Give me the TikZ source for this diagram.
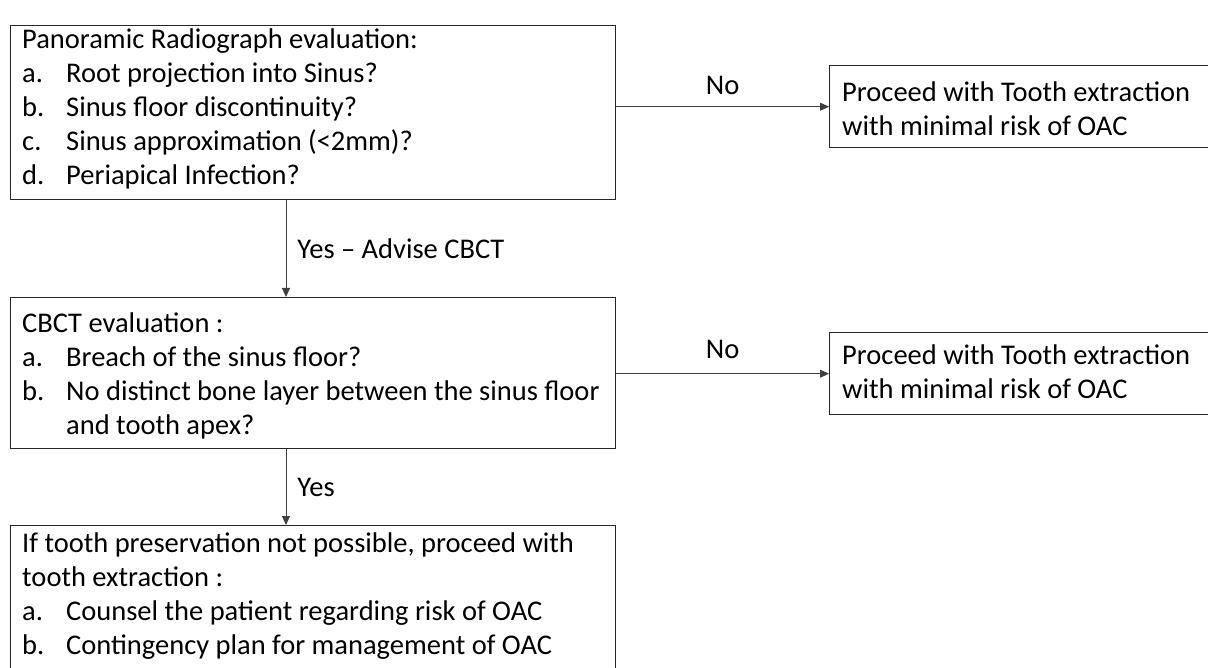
\documentclass[tikz,border=0pt]{standalone}
\usepackage{fontspec}
\setmainfont{Carlito}
\usetikzlibrary{arrows.meta}

\tikzset{
  box/.style={draw=black!85, line width=1.4pt, inner sep=0, anchor=north west},
  txt/.style={anchor=north west, align=left, inner sep=0, font=\fontsize{28.5}{34}\selectfont},
  flow/.style={draw=black!75, line width=0.9pt, -{Triangle[length=9pt,width=8pt]}},
  lbl/.style={font=\fontsize{28.5}{34}\selectfont, inner sep=0}
}
\newcommand{\itm}[1]{\makebox[44pt][l]{#1}}

\begin{document}
\begin{tikzpicture}[x=1pt, y=-1pt]
\useasboundingbox (0,0) rectangle (1208,668);
\clip (0,0) rectangle (1208,668);

% boxes
\node[box, minimum width=605, minimum height=174] (panbox) at (10,25) {};
\node[box, minimum width=400, minimum height=82] (noextract1) at (829,65) {};
\node[box, minimum width=605, minimum height=151] (cbctbox) at (10,297) {};
\node[box, minimum width=400, minimum height=82] (noextract2) at (829,332) {};
\node[box, minimum width=605, minimum height=200] (extractbox) at (10,525) {};

% texts
\node[txt] (pantxt) at (22,29) {Panoramic Radiograph evaluation:\\
  \itm{a.}Root projection into Sinus?\\
  \itm{b.}Sinus floor discontinuity?\\
  \itm{c.}Sinus approximation (<2mm)?\\
  \itm{d.}Periapical Infection?};
\node[txt] (notxt1) at (842,81.5) {Proceed with Tooth extraction\\with minimal risk of OAC};
\node[txt] (cbcttxt) at (22,312.5) {CBCT evaluation :\\
  \itm{a.}Breach of the sinus floor?\\
  \itm{b.}No distinct bone layer between the sinus floor\\
  \itm{}and tooth apex?};
\node[txt] (notxt2) at (842,344.5) {Proceed with Tooth extraction\\with minimal risk of OAC};
\node[txt] (extracttxt) at (22,533) {If tooth preservation not possible, proceed with\\
  tooth extraction :\\
  \itm{a.}Counsel the patient regarding risk of OAC\\
  \itm{b.}Contingency plan for management of OAC};

% connectors
\coordinate (downx) at (286,0);
\draw[flow] (noextract1.west -| panbox.east) -- node[lbl, above=12pt] (no1) {No} (noextract1.west);
\draw[flow] (noextract2.west -| cbctbox.east) -- node[lbl, above=15pt] (no2) {No} (noextract2.west);
\draw[flow] (panbox.south -| downx) -- node[lbl, right=11pt] (yes1) {Yes – Advise CBCT} (cbctbox.north -| downx);
\draw[flow] (cbctbox.south -| downx) -- node[lbl, right=11pt] (yes2) {Yes} (extractbox.north -| downx);
\end{tikzpicture}
\end{document}
